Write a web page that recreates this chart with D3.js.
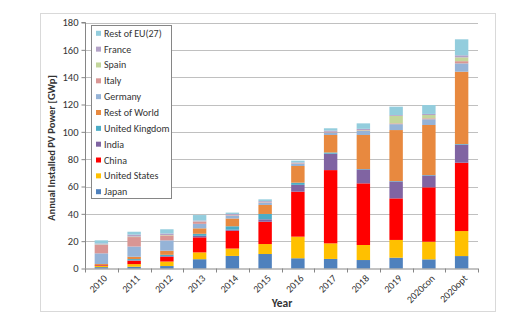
<!DOCTYPE html>
<html><head><meta charset="utf-8">
<script src="https://cdn.jsdelivr.net/npm/d3@7"></script>
<style>body{margin:0;background:#fff;} text{font-family:Carlito, Lato, "Open Sans", sans-serif;}</style>
</head><body>
<svg id="c" width="527" height="321"></svg>
<script>
const years = ["2010","2011","2012","2013","2014","2015","2016","2017","2018","2019","2020con","2020opt"];
const seriesNames = ["Japan","United States","China","India","United Kingdom","Rest of World","Germany","Italy","Spain","France","Rest of EU(27)"];
const colors = ["#4F81BD","#FFC000","#FF0000","#8064A2","#4BACC6","#E8893F","#95B3D7","#D99694","#C3D69B","#B3A2C7","#93CDDD"];
const japan   = [1.0,1.3,1.8,6.8,9.2,10.6,7.5,7.0,6.2,7.9,6.7,9.1];
const us      = [0.9,1.9,3.3,5.0,5.4,7.3,15.8,11.4,11.0,13.0,12.9,18.3];
const china   = [0.5,2.5,3.5,11.0,13.0,16.3,32.9,53.6,45.1,30.4,39.8,50.0];
const india   = [0.1,0.3,0.5,1.1,0.8,1.8,5.0,12.0,10.2,12.4,8.7,13.3];
const uk      = [0.1,0.9,0.9,1.5,2.5,3.9,1.6,0.9,0.3,0.3,0.3,0.4];
const row     = [0.7,1.7,3.0,4.0,5.7,6.6,12.2,12.8,24.9,37.3,36.6,52.9];
const germany = [7.8,7.5,7.6,3.3,1.9,1.5,1.5,1.8,2.9,4.3,4.2,6.1];
const italy   = [6.1,6.9,3.6,1.5,0.4,0.3,0.4,0.4,0.4,0.6,0.7,1.6];
const spain   = [0.4,0.4,0.3,0.2,0.1,0.1,0.1,0.1,0.3,5.5,2.4,2.8];
const france  = [0.7,1.4,1.1,0.7,0.9,0.9,0.6,0.9,0.9,0.6,0.8,1.5];
const restEU  = [2.3,2.1,3.1,4.0,1.0,1.3,1.3,1.7,4.0,6.1,6.5,11.7];
const yTicks = [0,20,40,60,80,100,120,140,160,180];
const allSeries = [japan,us,china,india,uk,row,germany,italy,spain,france,restEU];

const table = years.map((y,i)=>{const o={year:y}; seriesNames.forEach((s,k)=>o[s]=allSeries[k][i]); return o;});
const svg = d3.select("#c");
const L=85,R=478,T=22.5,B=268.5;
svg.append("rect").attr("x",40.5).attr("y",13.5).attr("width",455).attr("height",298).attr("fill","#fff").attr("stroke","#D9D9D9");
const x = d3.scaleBand().domain(years).range([L,R]).paddingInner(0.59).paddingOuter(0.295);
const y = d3.scaleLinear().domain([0,180]).range([B,T]);
svg.append("g").selectAll("line").data(yTicks.slice(1)).join("line")
  .attr("x1",L).attr("x2",R).attr("y1",d=>Math.round(y(d))+0.5).attr("y2",d=>Math.round(y(d))+0.5)
  .attr("stroke","#C0C0C0").attr("stroke-width",1);
const stack = d3.stack().keys(seriesNames)(table);
svg.append("g").selectAll("g").data(stack).join("g").attr("fill",(d,i)=>colors[i])
  .selectAll("rect").data(d=>d).join("rect")
  .attr("x",d=>x(d.data.year)).attr("width",x.bandwidth())
  .attr("y",d=>y(d[1])).attr("height",d=>y(d[0])-y(d[1]));
const ya = svg.append("g").attr("transform",`translate(${L+0.5},0)`).call(d3.axisLeft(y).tickValues(yTicks).tickSize(4).tickPadding(3));
ya.select(".domain").attr("stroke","#868686").attr("d",`M-4,${T}H0V${B}`);
ya.selectAll(".tick line").attr("stroke","#868686");
ya.selectAll("text").attr("font-size","10.5px").attr("fill","#333").style("font-family","Carlito, Lato, sans-serif");
const xg = svg.append("g");
xg.append("line").attr("x1",L).attr("x2",R).attr("y1",B+0.5).attr("y2",B+0.5).attr("stroke","#868686");
const bounds = years.map(d=>x(d)-x.step()*0.295).concat([R]);
xg.selectAll("line.t").data(bounds).join("line").attr("class","t")
  .attr("x1",d=>Math.round(d)+0.5).attr("x2",d=>Math.round(d)+0.5).attr("y1",B).attr("y2",B+4).attr("stroke","#868686");
xg.selectAll("text").data(years).join("text")
  .attr("transform",d=>`translate(${x(d)+x.bandwidth()/2+4},${B+8}) rotate(-45)`)
  .attr("text-anchor","end").attr("dy","0.35em").attr("font-size","10px").attr("fill","#333").text(d=>d);
svg.append("text").attr("x",282).attr("y",307).attr("text-anchor","middle").attr("font-size","11.5px").attr("font-weight","bold").attr("fill","#333").text("Year");
svg.append("text").attr("transform","translate(55,148) rotate(-90)").attr("text-anchor","middle").attr("font-size","10.5px").attr("font-weight","bold").attr("fill","#333").text("Annual Installed PV Power [GWp]");
const lg = svg.append("g");
lg.append("rect").attr("x",91.5).attr("y",25.5).attr("width",80).attr("height",173).attr("fill","#fff").attr("stroke","#868686");
const legOrder = seriesNames.map((s,i)=>i).reverse();
lg.selectAll("g").data(legOrder).join("g").attr("transform",(d,j)=>`translate(0,${33.3+j*15.84})`)
  .each(function(d){
    const g=d3.select(this);
    g.append("rect").attr("x",96).attr("y",-2.5).attr("width",5).attr("height",5).attr("fill",colors[d]);
    g.append("text").attr("x",104).attr("y",0).attr("dy","0.35em").attr("font-size","10px").attr("fill","#333").text(seriesNames[d]);
  });
</script>
</body></html>
